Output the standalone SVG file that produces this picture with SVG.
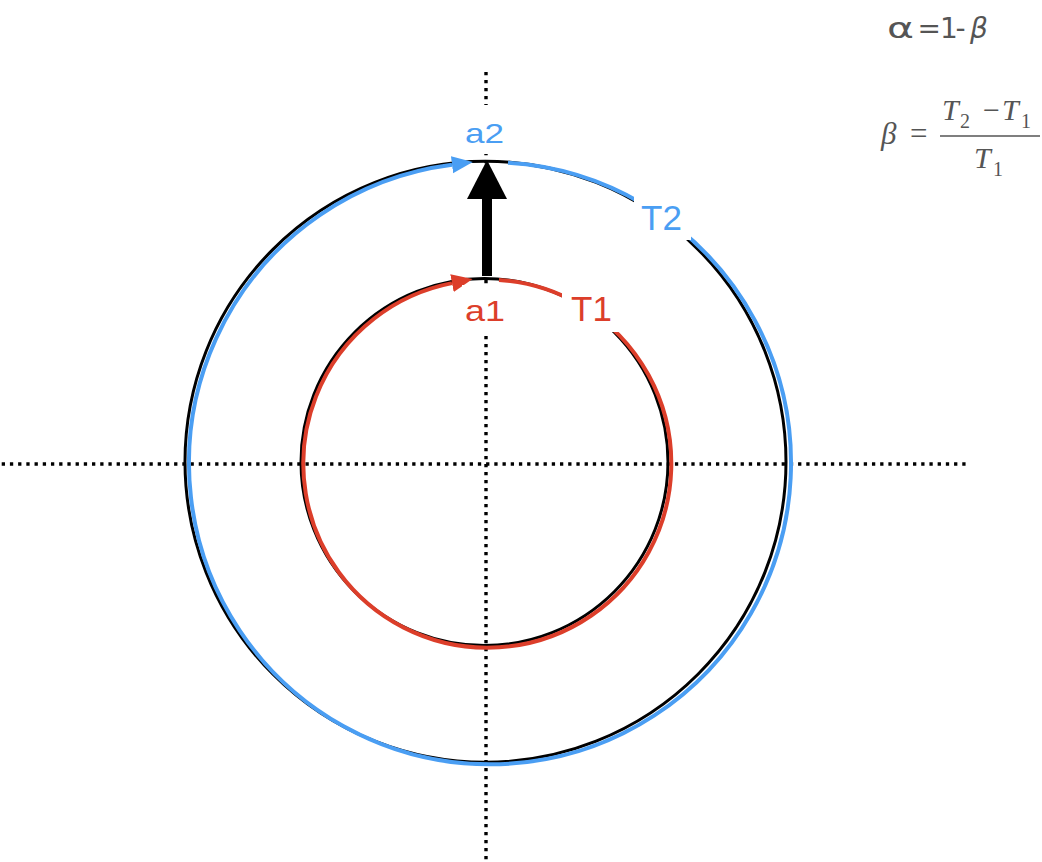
<svg xmlns="http://www.w3.org/2000/svg" width="1042" height="862" viewBox="0 0 1042 862">
<style>
.dot{fill:none;stroke:#000;stroke-width:3.4}
.ring{fill:none;stroke:#000;stroke-width:3}
.blue{fill:none;stroke:#4A9EF3;stroke-width:4}
.red{fill:none;stroke:#DC3E2A;stroke-width:4}
.bg{fill:#fff}
.lbl{font-family:"Liberation Sans",Arial,sans-serif}
.fa{font-family:"DejaVu Sans","Liberation Sans",sans-serif;fill:#555}
.math{font-family:"Liberation Serif","Times New Roman",serif;font-style:italic;fill:#555}
.up{font-family:"Liberation Serif","Times New Roman",serif;font-style:normal;fill:#555}
</style>
<defs>
<marker id="ab" markerUnits="userSpaceOnUse" viewBox="0 0 21 18" markerWidth="21" markerHeight="18" refX="0" refY="9" orient="auto"><path d="M0,0.5 L21,9 L0,17.5 z" fill="#4A9EF3"/></marker>
<marker id="ar" markerUnits="userSpaceOnUse" viewBox="0 0 21 18" markerWidth="21" markerHeight="18" refX="0" refY="9" orient="auto"><path d="M0,0 L21,9 L0,18 z" fill="#DC3E2A"/></marker>
</defs>
<rect width="1042" height="862" fill="#fff"/>
<g id="axes">
<line class="dot" x1="486" y1="72" x2="486" y2="862" stroke-dasharray="3.3 4.7"/>
<line class="dot" x1="1.7" y1="464" x2="966" y2="464" stroke-dasharray="3.3 4.91"/>
</g>
<g id="connectors">
<circle id="outer-ring" class="ring" cx="485.5" cy="461.8" r="300.5"/>
<circle id="inner-ring" class="ring" cx="484.5" cy="462" r="183.5"/>
<path id="arc-T2" class="blue" d="M508,162.84 A301,301 0 1 1 452,164.71" marker-end="url(#ab)"/>
<path id="arc-T1" class="red" d="M499,280.07 A184,184 0 1 1 452,283.12" marker-end="url(#ar)"/>
<g id="shift-arrow">
<rect x="482" y="196" width="10" height="80" fill="#000"/>
<polygon points="467,199 507,199 487,160" fill="#000"/>
</g>
</g>
<g id="label-a2">
<rect class="bg" x="462" y="105" width="48" height="49"/>
<text class="lbl" x="465" y="143" font-size="28" fill="#4A9EF3" textLength="39" lengthAdjust="spacingAndGlyphs">a2</text>
</g>
<g id="label-a1">
<rect class="bg" x="462" y="285" width="48" height="51"/>
<text class="lbl" x="465" y="321" font-size="30" fill="#DC3E2A" textLength="40" lengthAdjust="spacingAndGlyphs">a1</text>
</g>
<g id="label-T2">
<rect class="bg" x="634" y="184" width="57" height="56"/>
<text class="lbl" x="641" y="230" font-size="35" fill="#4A9EF3">T2</text>
</g>
<g id="label-T1">
<rect class="bg" x="562" y="284" width="64" height="48"/>
<text class="lbl" x="571" y="321" font-size="35" fill="#DC3E2A">T1</text>
</g>
<g id="formula-alpha">
<text class="fa" x="887" y="38" font-size="28" textLength="27" lengthAdjust="spacingAndGlyphs">α</text>
<text class="fa" x="917.5 940 955.5" y="38" font-size="28">=1-</text>
<text class="fa" x="970" y="38" font-size="28" font-style="italic">β</text>
</g>
<g id="formula-beta">
<text class="math" x="881" y="144" font-size="31">β</text>
<text class="up" x="910" y="144" font-size="31">=</text>
<line x1="940" y1="136" x2="1040" y2="136" stroke="#555" stroke-width="1.4"/>
<text class="math" x="942" y="120" font-size="30">T</text>
<text class="up" x="960" y="128" font-size="20">2</text>
<text class="up" x="983" y="120" font-size="30">−</text>
<text class="math" x="1002" y="120" font-size="30">T</text>
<text class="up" x="1021" y="128" font-size="20">1</text>
<text class="math" x="974" y="168" font-size="30">T</text>
<text class="up" x="993" y="176" font-size="20">1</text>
</g>
</svg>
